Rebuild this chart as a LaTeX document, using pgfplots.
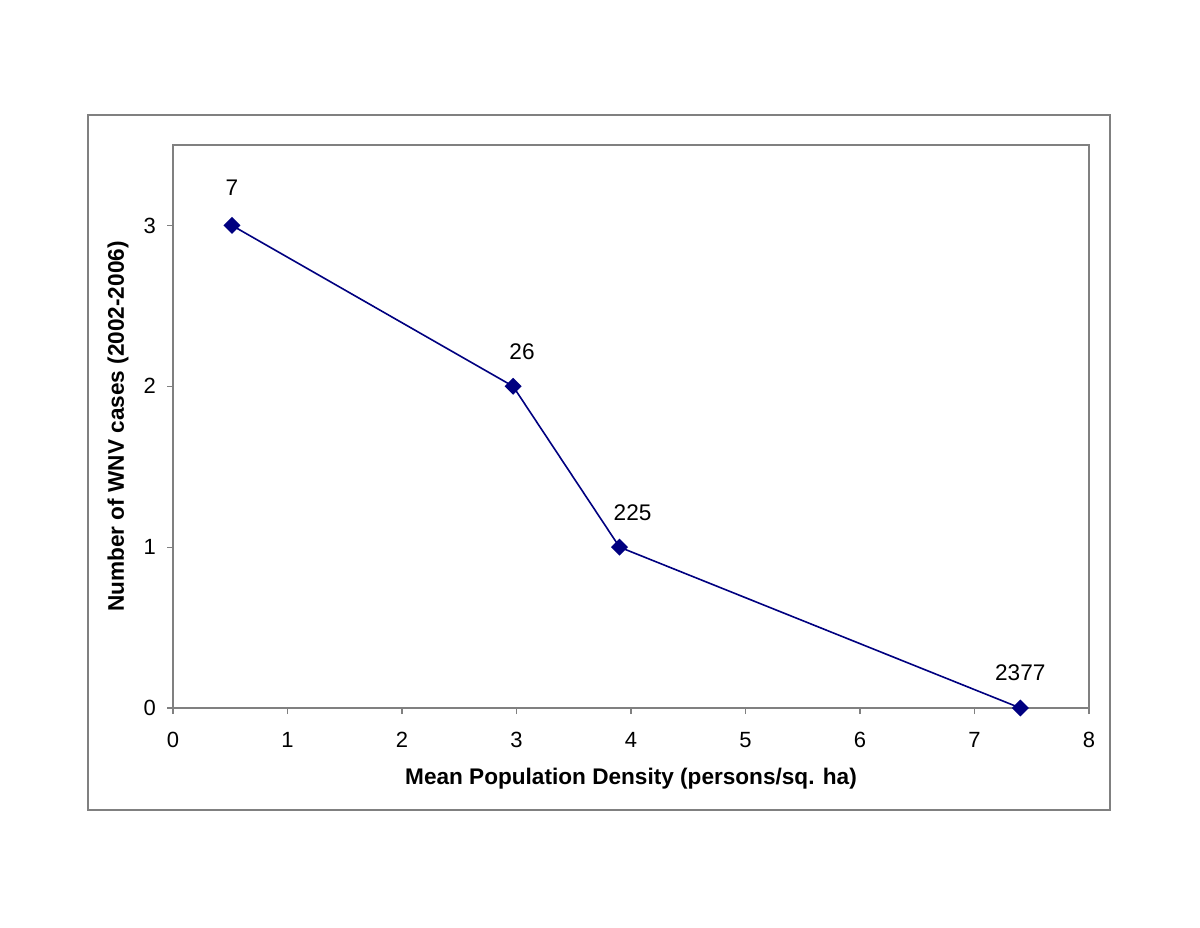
\documentclass[border=0pt]{standalone}
\usepackage{pgfplots}
\pgfplotsset{compat=1.18}
\usepackage{fontspec}
\setmainfont{Liberation Sans}
\definecolor{navyline}{RGB}{0,0,128}
\definecolor{axgray}{RGB}{128,128,128}
\begin{document}
\begin{tikzpicture}[x=0.5pt,y=0.5pt]
\path[use as bounding box, fill=white] (0,0) rectangle (1200,927);
\draw[axgray, line width=0.6pt] (88,117) rectangle (1110,812);
\begin{axis}[
  at={(86.5pt,109.5pt)}, anchor=south west,
  scale only axis, width=458pt, height=281.5pt,
  xmin=0, xmax=8, ymin=0, ymax=3.5,
  xtick={0,1,...,8}, ytick={0,1,2,3},
  axis line style={axgray, line width=0.6pt},
  tick style={axgray, line width=0.6pt},
  tick align=outside, major tick length=3pt,
  xtick pos=bottom, ytick pos=left,
  /pgf/number format/assume math mode=true,
  tick label style={font=\fontsize{11}{13}\selectfont, black},
  xticklabel style={yshift=-5.5pt},
  yticklabel style={xshift=-2pt},
  xlabel={Mean Population Density (persons/sq. ha)},
  ylabel={Number of WNV cases (2002-2006)},
  label style={font=\fontsize{11.3}{13}\selectfont\bfseries},
  xlabel style={at={(axis description cs:0.5,0)}, anchor=center, yshift=-35.5pt},
  ylabel style={at={(axis description cs:0,0.5)}, anchor=center, yshift=27.5pt},
  clip=false,
]
\addplot[navyline, line width=0.8pt, mark=square*, mark size=2.6pt,
  mark options={rotate=45, fill=navyline, draw=navyline}]
  coordinates {(0.515,3) (2.97,2) (3.90,1) (7.40,0)};
\begin{scope}[font=\fontsize{11.3}{13}\selectfont]
\node at (axis cs:0.515,3) [yshift=19pt] {7};
\node at (axis cs:2.97,2) [yshift=17.5pt, xshift=4.5pt] {26};
\node at (axis cs:3.90,1) [yshift=17pt, xshift=6.5pt] {225};
\node at (axis cs:7.40,0) [yshift=17.5pt] {2377};
\end{scope}
\end{axis}
\end{tikzpicture}
\end{document}
